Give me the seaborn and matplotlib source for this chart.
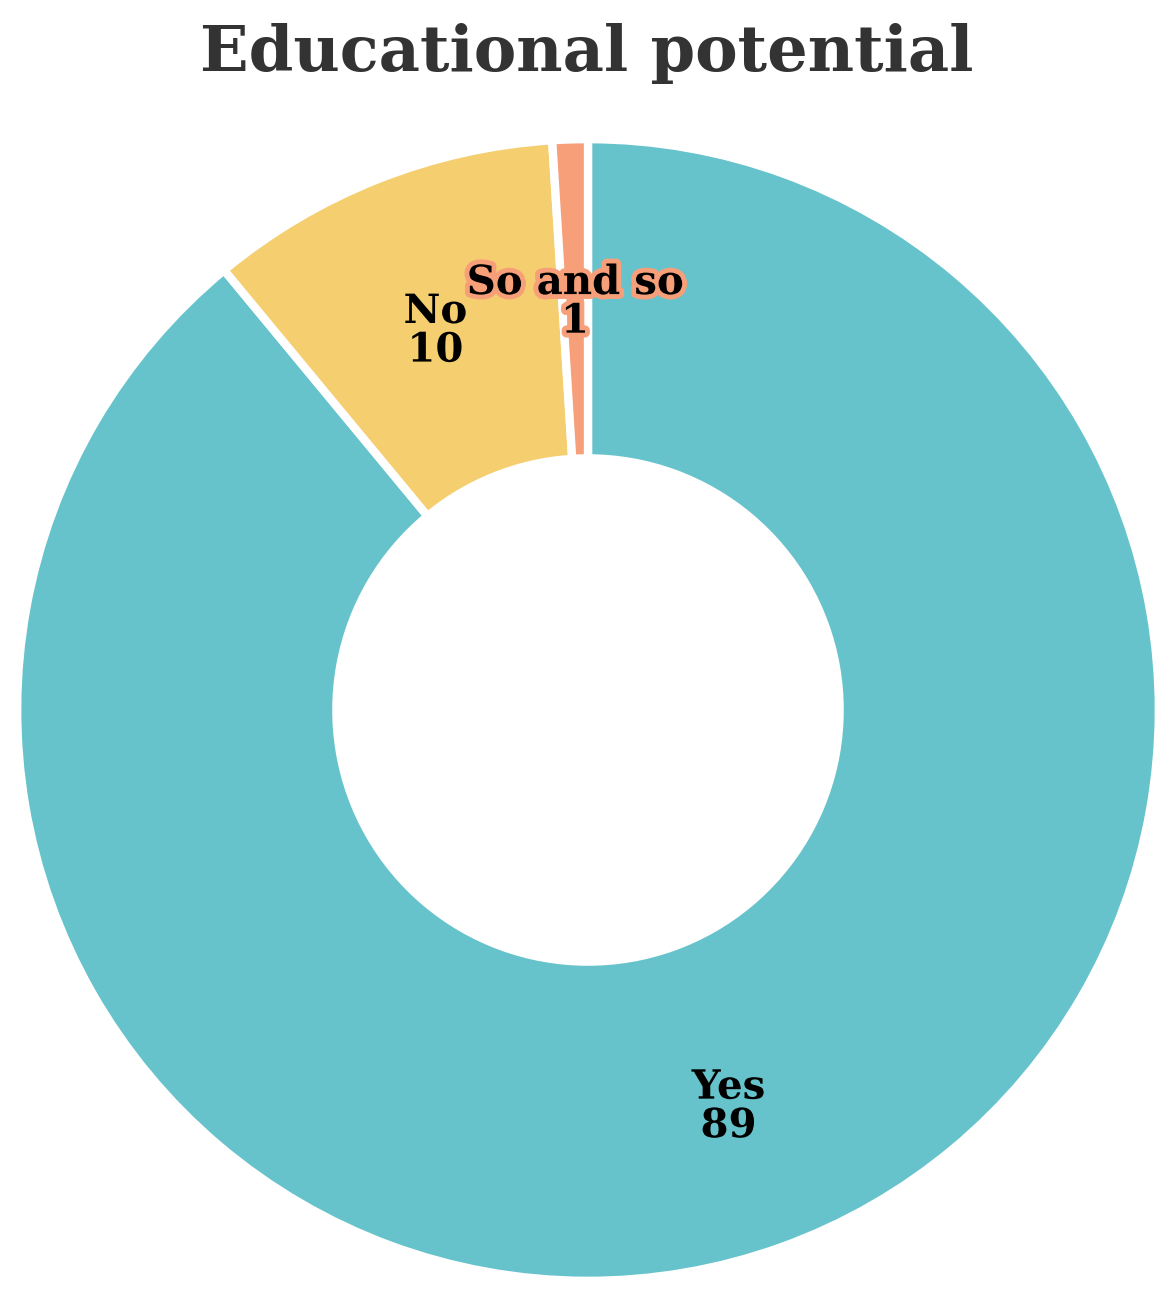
import matplotlib
matplotlib.use("Agg")
import numpy as np
import matplotlib.pyplot as plt
import matplotlib.patheffects as pe
import seaborn as sns

labels = ["Yes", "No", "So and so"]
values = [89, 10, 1]
colors = ["#67C3CB", "#F5CE70", "#F79F79"]

sns.set_theme(style="white")
plt.rcParams["font.family"] = ["DejaVu Serif", "DejaVu Sans"]

W, H = 1174, 1293
fig = plt.figure(figsize=(W / 100, H / 100), dpi=100)
cx, cy, R = 588, 710, 568
ax = fig.add_axes([(cx - R) / W, (H - cy - R) / H, 2 * R / W, 2 * R / H])

ax.pie(values, colors=colors, startangle=90, counterclock=False, radius=1.005,
       wedgeprops=dict(width=0.562, edgecolor="white", linewidth=6))

# labels at the middle of each ring segment, with a halo in the slice colour
total = sum(values)
start = 90.0
for lab, val, col in zip(labels, values, colors):
    mid = start - val / total * 360 / 2
    start -= val / total * 360
    r = 0.73
    x, y = r * np.cos(np.radians(mid)), r * np.sin(np.radians(mid)) - 0.012
    ax.text(x, y, f"{lab}\n{val}", ha="center", va="center", fontsize=29,
            fontweight="bold", color="black", linespacing=1.02,
            path_effects=[pe.withStroke(linewidth=7, foreground=col)])

ax.set_xlim(-1, 1)
ax.set_ylim(-1, 1)
ax.set_aspect("equal")
ax.axis("off")

fig.text(0.5, 1 - 54 / H, "Educational potential", ha="center", va="center",
         fontsize=46, fontweight="bold", color="#333333")

fig.savefig("out.png", dpi=100, facecolor="white")
